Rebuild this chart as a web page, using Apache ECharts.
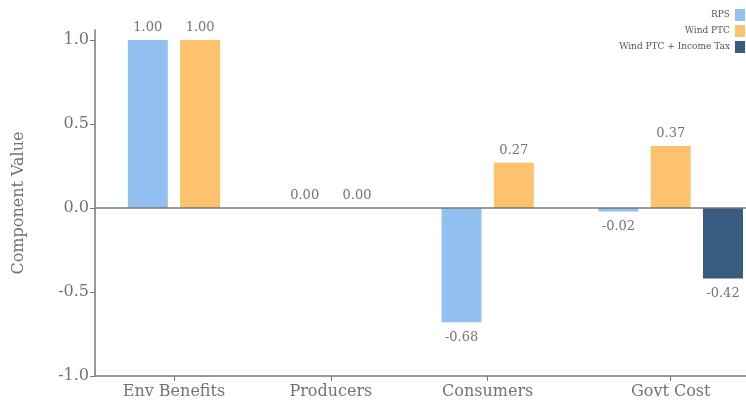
<!DOCTYPE html>
<html><head><meta charset="utf-8">
<script src="https://cdn.jsdelivr.net/npm/echarts@6/dist/echarts.min.js"></script>
<style>html,body{margin:0;padding:0;background:#fff}#c{width:746px;height:407px}</style>
</head><body><div id="c"></div>
<script>
const categories = ['Env Benefits', 'Producers', 'Consumers', 'Govt Cost'];
const seriesNames = ['RPS', 'Wind PTC', 'Wind PTC + Income Tax'];
const rps = [1.00, 0.00, -0.68, -0.02];
const windPtc = [1.00, 0.00, 0.27, 0.37];
const windPtcTax = [null, null, null, -0.42];
const yTicks = [-1.0, -0.5, 0.0, 0.5, 1.0];
const colors = ['#92C0F0', '#FDC26E', '#375C80'];

const FONT = '"DejaVu Serif", "Liberation Serif", serif';
const TXT = '#737373';
const allSeries = [rps, windPtc, windPtcTax];
const slot = 1 / 3;           // spacing between bars inside a group (category units)
const slotOffsets = [-slot, 0, slot];

// tick position per category: mean of slots that actually have bars
const tickPos = categories.map((c, i) => {
  const offs = allSeries.map((s, k) => s[i] == null ? null : slotOffsets[k]).filter(o => o != null);
  return i + offs.reduce((a, b) => a + b, 0) / offs.length;
});

const series = allSeries.map((vals, k) => ({
  name: seriesNames[k],
  type: 'bar',
  barWidth: 40,
  barGap: '-100%',
  itemStyle: { color: colors[k] },
  data: vals.map((v, i) => v == null ? null : {
    value: [i + slotOffsets[k], v],
    label: { position: v < 0 ? 'bottom' : 'top', distance: v < 0 ? 9 : 6 }
  }).filter(d => d != null),
  label: {
    show: true,
    fontFamily: FONT, fontSize: 13, color: TXT,
    formatter: p => p.value[1].toFixed(2)
  },
  z: 2
}));
series[0].markLine = {
  silent: true, symbol: 'none', label: { show: false },
  lineStyle: { color: '#777', width: 1.5, type: 'solid' },
  data: [{ yAxis: 0 }], z: 5
};

const chart = echarts.init(document.getElementById('c'), null, { renderer: 'canvas' });
chart.setOption({
  animation: false,
  backgroundColor: '#fff',
  grid: { left: 95, right: 0, top: 30, bottom: 31, containLabel: false },
  legend: {
    orient: 'vertical', right: 1, top: 9, align: 'right', padding: 0,
    itemWidth: 10, itemHeight: 12, itemGap: 4,
    textStyle: { fontFamily: FONT, fontSize: 9, color: '#555' },
    data: seriesNames.map(n => ({ name: n, icon: 'rect' }))
  },
  xAxis: {
    type: 'value', min: -0.67, max: 3.48,
    splitLine: { show: false },
    axisLine: { show: true, onZero: false, lineStyle: { color: '#777', width: 1.5 } },
    axisTick: { show: true, length: 5, lineStyle: { color: '#777' }, customValues: tickPos },
    axisLabel: {
      customValues: tickPos,
      fontFamily: FONT, fontSize: 16, color: TXT, margin: 8,
      formatter: v => {
        const i = tickPos.findIndex(t => Math.abs(t - v) < 1e-6);
        return i >= 0 ? categories[i] : '';
      }
    }
  },
  yAxis: {
    type: 'value', min: -1, max: 1.06,
    name: 'Component Value', nameLocation: 'middle', nameGap: 68,
    nameTextStyle: { fontFamily: FONT, fontSize: 16, color: TXT },
    splitLine: { show: false },
    axisLine: { show: true, onZero: false, lineStyle: { color: '#777', width: 1.5 } },
    axisTick: { show: true, length: 5, lineStyle: { color: '#777' }, customValues: yTicks },
    axisLabel: {
      customValues: yTicks,
      fontFamily: FONT, fontSize: 16, color: TXT, margin: 6,
      formatter: v => v.toFixed(1)
    }
  },
  series: series
});
</script></body></html>
